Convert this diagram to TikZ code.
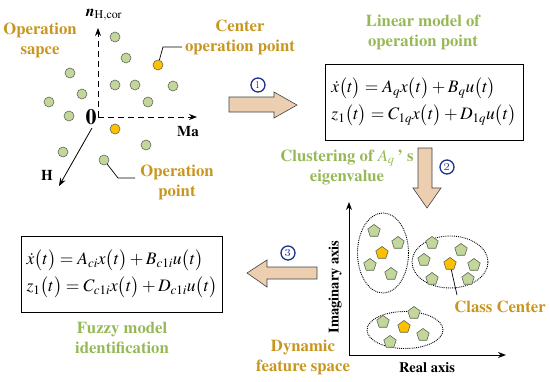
\documentclass[tikz,border=0pt]{standalone}
\usepackage[T1]{fontenc}
\usepackage{mathptmx}
\usetikzlibrary{shapes.geometric,arrows.meta}
\definecolor{gold}{RGB}{200,150,30}
\definecolor{lgreen}{RGB}{150,185,85}
\definecolor{dotfill}{RGB}{195,214,155}
\definecolor{dotline}{RGB}{95,105,85}
\definecolor{yel}{RGB}{255,192,0}
\definecolor{arrfill}{RGB}{236,207,176}
\definecolor{numblue}{RGB}{30,50,140}
\tikzset{
  gdot/.style={circle,draw=dotline,fill=dotfill,line width=0.6pt,minimum size=10pt,inner sep=0pt},
  ydot/.style={gdot,fill=yel},
  gpent/.style={regular polygon,regular polygon sides=5,draw=dotline,fill=dotfill,line width=0.6pt,minimum size=13pt,inner sep=0pt},
  ypent/.style={gpent,fill=yel},
  goldlbl/.style={text=gold,font=\fontsize{16.7}{20}\selectfont\bfseries,align=center,inner sep=0pt},
  greenlbl/.style={text=lgreen,font=\fontsize{16.7}{20}\selectfont\bfseries,align=center,inner sep=0pt},
  eqbox/.style={draw,line width=1pt,minimum width=198pt,minimum height=76pt,inner xsep=5pt,inner ysep=2pt,align=left,font=\fontsize{17.5}{27}\selectfont},
  blockarrow/.style={draw=black!75,fill=arrfill,line width=0.6pt},
  numc/.style={circle,draw=numblue,line width=1.3pt,text=numblue,inner sep=0pt,minimum size=14pt,font=\sffamily\bfseries\fontsize{11}{11}\selectfont},
  axlbl/.style={font=\fontsize{15}{18}\selectfont\bfseries,inner sep=0pt},
  axarrow/.style={-{Stealth[length=8pt,width=6pt]},line width=0.8pt},
  leader/.style={line width=0.7pt},
  clus/.style={ellipse,draw,densely dotted,line width=0.9pt,inner sep=0pt}
}
\begin{document}
\begin{tikzpicture}[x=1pt,y=-1pt]
\useasboundingbox (0,0) rectangle (550,381);
% ---------- operation space ----------
\coordinate (o) at (98,117);
\coordinate (ytip) at (98,28);
\coordinate (xtip) at (197,117);
\coordinate (hstart) at (92,128);
\coordinate (htip) at (59,186);
\draw[axarrow,dashed,dash pattern=on 6pt off 4pt] (o) -- (ytip);
\draw[axarrow,dashed,dash pattern=on 6pt off 4pt] (o) -- (xtip);
\draw[axarrow] (hstart) -- (htip);
\node[font=\fontsize{22}{22}\selectfont\bfseries,inner sep=0pt] (zero) at (91,117) {0};
\node[inner sep=0pt,font=\fontsize{16}{16}\selectfont] (nlbl) at (104,15) {\textbf{\textit{n}}$_{\mathrm{H,cor}}$};
\node[axlbl] (malbl) at (188,131) {Ma};
\node[axlbl] (hlbl) at (47,175) {H};
\node[goldlbl] (opspace) at (40,40) {Operation\\sapce};
\node[goldlbl] (center) at (240,37) {Center\\operation point};
\node[goldlbl] (oppoint) at (177,182) {Operation\\point};
\foreach \n/\x/\y in {a/115/37,b/126/58,c/70/73,d/115/85,e/135/85,f/173/86,g/82/94,h/49/102,i/148/102,j/69/116,k/63/152,l/104/160,m/146/145}
  \node[gdot] (d\n) at (\x,\y) {};
\node[ydot] (cdot) at (158,65) {};
\node[ydot] (ydot2) at (115,129) {};
\coordinate (c1) at (163,47);
\coordinate (c2) at (182,47);
\draw[leader] (cdot) -- (c1) -- (c2);
\coordinate (p1) at (118,178);
\coordinate (p2) at (135,178);
\draw[leader] (dl) -- (p1) -- (p2);
% ---------- arrow 1 ----------
\draw[blockarrow] (229,97) -- (274,97) -- (274,92) -- (297,105) -- (274,118) -- (274,112) -- (229,112) -- cycle;
\node[numc] (n1) at (258,85) {1};
% ---------- linear model ----------
\node[greenlbl] (linlbl) at (423,32) {Linear model of\\operation point};
\node[eqbox] (box1) at (424,102) {$\dot{x}\big(t\big)=A_{q}x\big(t\big)+B_{q}u\big(t\big)$\\$z_{1}\big(t\big)=C_{1q}x\big(t\big)+D_{1q}u\big(t\big)$};
\node[greenlbl] (cluslbl) at (347,167) {Clustering of \mdseries$A_q$\bfseries\,'\ s\\eigenvalue};
% ---------- arrow 2 ----------
\draw[blockarrow] (418,148) -- (432,148) -- (432,188) -- (441,188) -- (427,208) -- (413,188) -- (418,188) -- cycle;
\node[numc] (n2) at (447,167) {2};
% ---------- feature space ----------
\coordinate (fo) at (349,355);
\coordinate (fy) at (349,202);
\coordinate (fx) at (506,355);
\draw[axarrow,line width=1pt] (fo) -- (fy);
\draw[axarrow,line width=1pt] (fo) -- (fx);
\node[axlbl,font=\fontsize{14.5}{14.5}\selectfont\bfseries,rotate=90] (imlbl) at (335,287) {Imaginary axis};
\node[axlbl,font=\fontsize{14.5}{14.5}\selectfont\bfseries] (relbl) at (427,368) {Real axis};
\node[clus,minimum width=51pt,minimum height=80pt] (e1) at (383,253) {};
\node[clus,minimum width=76pt,minimum height=52pt] (e2) at (450,262) {};
\node[clus,minimum width=76pt,minimum height=37pt] (e3) at (405,330) {};
\foreach \n/\x/\y in {a/374/231,b/398/243,c/370/265,d/391/274,e/432/243,f/461/250,g/424/260,h/474/265,i/432/279,j/468/279,k/414/313,l/383/322,m/423/335,n/390/342}
  \node[gpent] (p\n) at (\x,\y) {};
\node[ypent] (y1) at (382,253) {};
\node[ypent] (y2) at (450,264) {};
\node[ypent] (y3) at (404,327) {};
\coordinate (cc) at (457,295);
\draw[leader] (y2) -- (cc);
\node[goldlbl] (cclbl) at (500,307) {Class Center};
\node[goldlbl] (dynlbl) at (303,357) {Dynamic\\feature space};
% ---------- arrow 3 ----------
\draw[blockarrow] (317,267) -- (267,267) -- (267,260) -- (247,273) -- (267,287) -- (267,279) -- (317,279) -- cycle;
\node[numc] (n3) at (288,253) {3};
% ---------- fuzzy model ----------
\node[eqbox] (box2) at (122,274) {$\dot{x}\big(t\big)=A_{ci}x\big(t\big)+B_{c1i}u\big(t\big)$\\$z_{1}\big(t\big)=C_{c1i}x\big(t\big)+D_{c1i}u\big(t\big)$};
\node[greenlbl] (fuzlbl) at (122,338) {Fuzzy model\\identification};
\end{tikzpicture}
\end{document}
